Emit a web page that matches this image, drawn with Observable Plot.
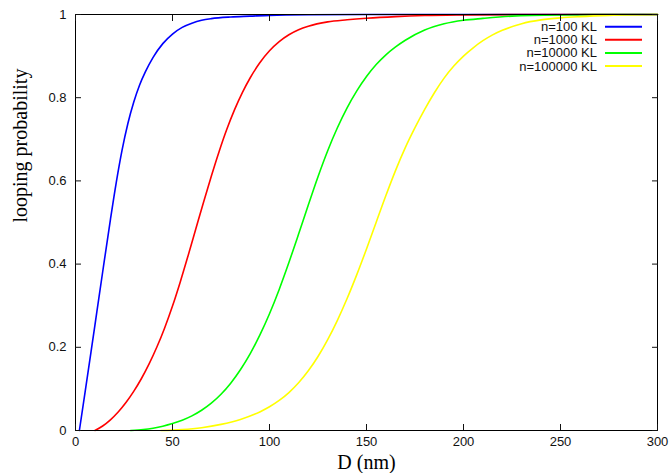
<!DOCTYPE html>
<html>
<head>
<meta charset="utf-8">
<script src="https://cdn.jsdelivr.net/npm/d3@7"></script>
<script src="https://cdn.jsdelivr.net/npm/@observablehq/plot@0.6"></script>
<style>
  html, body { margin: 0; padding: 0; background: #fff; }
</style>
</head>
<body>
<div id="chart"></div>
<script>
// ---- data ----
const seriesNames = ["n=100 KL", "n=1000 KL", "n=10000 KL", "n=100000 KL"];
const seriesColors = ["#0000ff", "#ff0000", "#00ff00", "#ffff00"];

const blueD = [2, 5, 8, 11, 14, 18, 21, 24, 27, 30, 33, 36, 40, 45, 50, 55, 60, 65, 70, 80, 90, 100, 120, 150, 300];
const blueP = [0, 0.094, 0.189, 0.285, 0.381, 0.507, 0.596, 0.674, 0.738, 0.789, 0.83, 0.862, 0.897, 0.93, 0.953, 0.969, 0.979, 0.986, 0.99, 0.994, 0.996, 0.998, 0.9995, 1, 1];

const redD = [10, 14, 18, 22, 26, 30, 34, 38, 42, 46, 50, 54, 58, 62, 66, 70, 74, 78, 82, 86, 90, 95, 100, 105, 110, 115, 120, 130, 140, 150, 165, 180, 200, 230, 300];
const redP = [0, 0.0108, 0.0256, 0.0444, 0.0672, 0.094, 0.125, 0.1606, 0.2012, 0.2472, 0.2992, 0.3572, 0.4196, 0.4842, 0.5488, 0.6112, 0.6702, 0.724, 0.7712, 0.8122, 0.8474, 0.8839, 0.9127, 0.9347, 0.9512, 0.9632, 0.9717, 0.9822, 0.9872, 0.991, 0.995, 0.9975, 0.999, 1, 1];

const greenD = [28.4, 35, 40, 45, 50, 55, 60, 65, 70, 75, 80, 85, 90, 95, 100, 105, 110, 115, 120, 125, 130, 135, 140, 145, 150, 155, 160, 165, 170, 180, 190, 200, 210, 225, 250, 275, 300];
const greenP = [0, 0.0023, 0.0056, 0.0103, 0.0166, 0.0246, 0.0351, 0.0486, 0.0656, 0.0871, 0.1138, 0.1461, 0.1843, 0.2291, 0.2806, 0.3391, 0.4036, 0.4721, 0.5421, 0.6101, 0.6726, 0.7278, 0.7756, 0.8163, 0.8508, 0.8796, 0.9031, 0.9221, 0.9381, 0.9626, 0.9776, 0.9861, 0.9906, 0.996, 0.999, 0.9998, 1];

const yellowD = [44, 55, 65, 75, 85, 95, 100, 105, 110, 115, 120, 125, 130, 135, 140, 145, 150, 155, 160, 165, 170, 175, 180, 185, 190, 195, 200, 205, 210, 215, 220, 230, 240, 250, 260, 275, 300];
const yellowP = [0, 0.0022, 0.0067, 0.0147, 0.0267, 0.0447, 0.057, 0.0722, 0.0912, 0.1147, 0.1434, 0.1779, 0.2184, 0.2649, 0.3172, 0.3747, 0.4364, 0.5007, 0.5649, 0.6254, 0.68, 0.728, 0.772, 0.812, 0.847, 0.876, 0.9, 0.92, 0.937, 0.951, 0.962, 0.978, 0.987, 0.992, 0.995, 0.998, 1];

const xTicks = [0, 50, 100, 150, 200, 250, 300];
const yTicks = [0, 0.2, 0.4, 0.6, 0.8, 1];
const xTitle = "D (nm)";
const yTitle = "looping probability";

// ---- build table ----
const seriesD = [blueD, redD, greenD, yellowD];
const seriesP = [blueP, redP, greenP, yellowP];
const rows = [];
seriesNames.forEach((name, i) => {
  seriesD[i].forEach((d, j) => rows.push({series: name, D: d, p: seriesP[i][j]}));
});

const tickFont = "'Liberation Sans', Arial, sans-serif";
const titleFont = "'Liberation Serif', 'Times New Roman', serif";

const legendMark = (index, scales, values, dims) => {
  const g = d3.create("svg:g")
    .attr("font-family", tickFont)
    .attr("font-size", 13);
  const right = dims.width - dims.marginRight;
  seriesNames.forEach((name, i) => {
    const y = dims.marginTop + 12.7 + i * 13.1;
    g.append("text")
      .attr("x", right - 60)
      .attr("y", y)
      .attr("dy", "0.35em")
      .attr("text-anchor", "end")
      .attr("fill", "#111")
      .text(name);
    g.append("line")
      .attr("x1", right - 52)
      .attr("x2", right - 15)
      .attr("y1", y)
      .attr("y2", y)
      .attr("stroke", seriesColors[i])
      .attr("stroke-width", 2);
  });
  return g.node();
};

const chart = Plot.plot({
  width: 670,
  height: 473,
  marginLeft: 75,
  marginRight: 13,
  marginTop: 14,
  marginBottom: 43,
  style: {fontFamily: tickFont, fontSize: "13px", color: "#111", background: "#fff", overflow: "visible"},
  x: {domain: [0, 300]},
  y: {domain: [0, 1]},
  color: {domain: seriesNames, range: seriesColors},
  marks: [
    Plot.line(rows, {x: "D", y: "p", z: "series", stroke: "series", strokeWidth: 1.6, curve: "monotone-x"}),
    Plot.frame({stroke: "#000", strokeWidth: 1}),
    Plot.axisX({ticks: xTicks, tickSize: -6, tickPadding: 12, label: null, fontSize: 13}),
    Plot.axisX({anchor: "top", ticks: xTicks, tickSize: -6, tickFormat: () => "", label: null}),
    Plot.axisY({ticks: yTicks, tickSize: -6, tickPadding: 15, tickFormat: d => String(d), label: null, fontSize: 13}),
    Plot.axisY({anchor: "right", ticks: yTicks, tickSize: -6, tickFormat: () => "", label: null}),
    Plot.text([xTitle], {frameAnchor: "bottom", dy: 32, text: d => d, fontFamily: titleFont, fontSize: 20, lineAnchor: "middle", fill: "#000"}),
    Plot.text([yTitle], {frameAnchor: "left", dx: -55, text: d => d, rotate: -90, fontFamily: titleFont, fontSize: 20, lineAnchor: "middle", fill: "#000"}),
    legendMark
  ]
});
document.getElementById("chart").appendChild(chart);
</script>
</body>
</html>
